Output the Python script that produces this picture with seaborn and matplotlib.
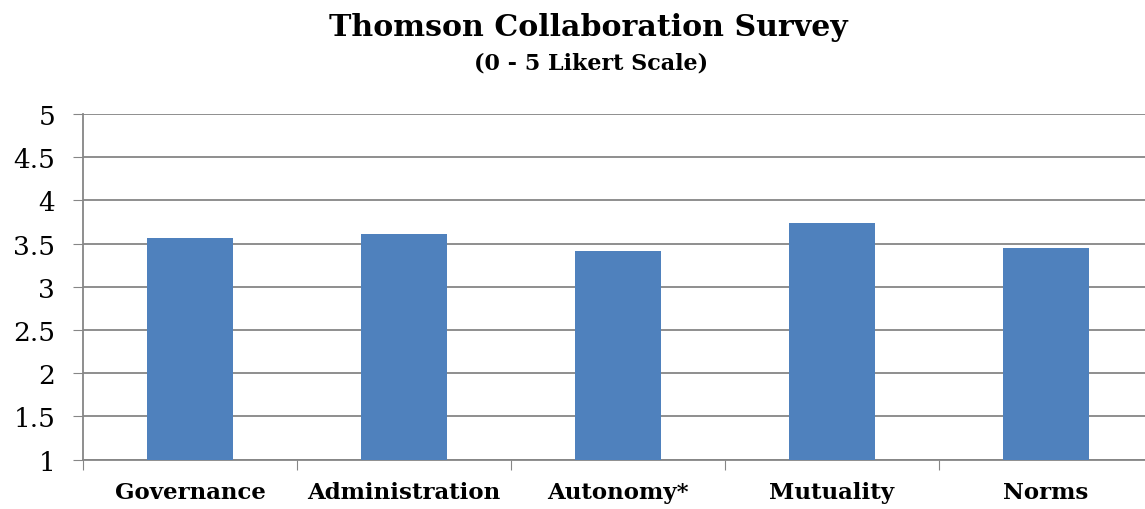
import pandas as pd
import matplotlib.pyplot as plt
import seaborn as sns

# Survey data
categories = ["Governance", "Administration", "Autonomy*", "Mutuality", "Norms"]
scores = [3.56, 3.61, 3.41, 3.74, 3.45]
y_ticks = [1, 1.5, 2, 2.5, 3, 3.5, 4, 4.5, 5]
y_labels = ["1", "1.5", "2", "2.5", "3", "3.5", "4", "4.5", "5"]

df = pd.DataFrame({"Category": categories, "Score": scores})

sns.set_style("white")
plt.rcParams['font.family'] = ['DejaVu Serif']
plt.rcParams['text.color'] = 'black'
plt.rcParams['xtick.color'] = 'black'
plt.rcParams['ytick.color'] = 'black'

fig = plt.figure(figsize=(11.45, 5.1), dpi=100)
# plot area runs slightly past the right edge, as in the original export
ax = fig.add_axes([0.0725, 0.0967, 0.9345, 0.6778])

sns.barplot(x="Category", y="Score", data=df, color="#4F81BD", width=0.40,
            saturation=1, linewidth=0, ax=ax, zorder=3)

ax.set_ylim(1, 5)
ax.set_xlim(-0.5, len(categories) - 0.5)
ax.set_yticks(y_ticks)
ax.set_yticklabels(y_labels, fontsize=19, color="black")
ax.yaxis.grid(True, color="#868686", linewidth=1.3, zorder=0)
ax.set_axisbelow(True)

# category boundary tick marks like Excel
ax.set_xticks([i - 0.5 for i in range(len(categories) + 1)], minor=False)
ax.set_xticklabels([])
ax.set_xticks(range(len(categories)), minor=True)
ax.set_xticklabels(categories, minor=True, fontsize=16.5, fontweight="bold", color="black")
ax.tick_params(axis="x", which="major", length=7, color="#868686", direction="out", bottom=True)
ax.tick_params(axis="x", which="minor", length=0, pad=15)
ax.tick_params(axis="y", length=7, color="#868686", direction="out", left=True, pad=13)

for side in ["top", "right"]:
    ax.spines[side].set_visible(False)
for side in ["left", "bottom"]:
    ax.spines[side].set_color("#868686")
    ax.spines[side].set_linewidth(1.3)

ax.set_xlabel("")
ax.set_ylabel("")

fig.text(0.514, 0.946, "Thomson Collaboration Survey", ha="center", va="center",
         fontsize=21.6, fontweight="bold", color="black")
fig.text(0.516, 0.876, "(0 - 5 Likert Scale)", ha="center", va="center",
         fontsize=16, fontweight="bold", color="black")

plt.savefig("out.png", dpi=100)
